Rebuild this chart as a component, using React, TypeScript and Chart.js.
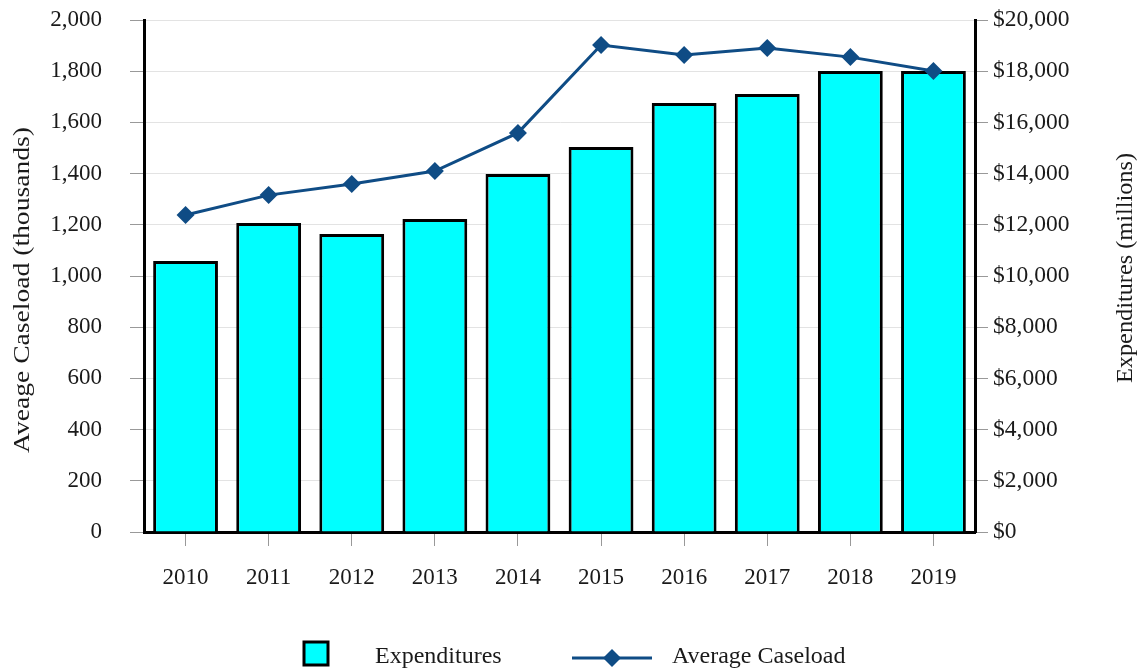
import React, { useEffect, useRef } from "react";
import { Chart, registerables } from "chart.js";

Chart.register(...registerables);

const years = ["2010", "2011", "2012", "2013", "2014", "2015", "2016", "2017", "2018", "2019"];
const expenditures = [10590, 12070, 11640, 12230, 13980, 15040, 16760, 17110, 18010, 18010];
const caseload = [1238, 1316, 1359, 1410, 1559, 1902, 1863, 1891, 1855, 1801];
const leftTitle = "Aveage Caseload (thousands)";
const rightTitle = "Expenditures (millions)";
const barLabel = "Expenditures";
const lineLabel = "Average Caseload";

const FONT = "'Liberation Serif', 'Times New Roman', serif";
const TEXT = "#1a1a1a";
const CYAN = "#00ffff";
const BLUE = "#0f4c85";

const extrasPlugin = {
  id: "extras",
  afterDraw(chart: any) {
    const ctx = chart.ctx;
    ctx.save();
    ctx.fillStyle = TEXT;
    ctx.textAlign = "center";
    ctx.textBaseline = "middle";
    // axis titles
    ctx.font = `24px ${FONT}`;
    ctx.save();
    ctx.translate(23, 290);
    ctx.rotate(-Math.PI / 2);
    const lw = ctx.measureText(leftTitle).width;
    ctx.scale(326 / lw, 1);
    ctx.fillText(leftTitle, 0, 0);
    ctx.restore();
    ctx.save();
    ctx.translate(1126, 268);
    ctx.rotate(-Math.PI / 2);
    const rw = ctx.measureText(rightTitle).width;
    ctx.scale(230 / rw, 1);
    ctx.fillText(rightTitle, 0, 0);
    ctx.restore();

    // legend
    const ly = 657;
    ctx.fillStyle = CYAN;
    ctx.fillRect(304, 642, 24, 23);
    ctx.strokeStyle = "#000";
    ctx.lineWidth = 3;
    ctx.strokeRect(304, 642, 24, 23);
    ctx.fillStyle = TEXT;
    ctx.textAlign = "left";
    ctx.fillText(barLabel, 375, ly);

    ctx.strokeStyle = BLUE;
    ctx.lineWidth = 3;
    ctx.beginPath();
    ctx.moveTo(572, ly + 1);
    ctx.lineTo(652, ly + 1);
    ctx.stroke();
    ctx.fillStyle = BLUE;
    ctx.beginPath();
    const r = 9;
    ctx.moveTo(612, ly + 1 - r);
    ctx.lineTo(612 + r, ly + 1);
    ctx.lineTo(612, ly + 1 + r);
    ctx.lineTo(612 - r, ly + 1);
    ctx.closePath();
    ctx.fill();
    ctx.fillStyle = TEXT;
    ctx.fillText(lineLabel, 672, ly);
    ctx.restore();
  },
};

export default function App() {
  const ref = useRef<HTMLCanvasElement>(null);
  useEffect(() => {
    if (!ref.current) return;
    const chart = new Chart(ref.current, {
      type: "bar",
      data: {
        labels: years,
        datasets: [
          {
            type: "line",
            label: lineLabel,
            data: caseload,
            yAxisID: "y",
            borderColor: BLUE,
            backgroundColor: BLUE,
            borderWidth: 3,
            pointStyle: "rectRot",
            pointRadius: 9,
            pointBackgroundColor: BLUE,
            pointBorderColor: BLUE,
            pointBorderWidth: 0,
            tension: 0,
            order: 0,
          } as any,
          {
            type: "bar",
            label: barLabel,
            data: expenditures,
            yAxisID: "y1",
            backgroundColor: CYAN,
            borderColor: "#000",
            borderWidth: 3,
            barPercentage: 0.78,
            categoryPercentage: 1,
            order: 1,
          },
        ],
      },
      options: {
        animation: false,
        responsive: true,
        maintainAspectRatio: false,
        layout: { padding: { top: 20, bottom: 60, left: 0, right: 0 } },
        plugins: { legend: { display: false }, tooltip: { enabled: false } },
        scales: {
          x: {
            offset: true,
            grid: {
              offset: false,
              drawOnChartArea: false,
              tickLength: 14,
              tickColor: "#999",
              tickWidth: 1,
            },
            border: { color: "#000", width: 3 },
            ticks: { color: TEXT, font: { family: FONT, size: 23 }, padding: 18, maxRotation: 0 },
            afterFit(s: any) {
              s.height = 79;
              s.paddingLeft = 0;
              s.paddingRight = 0;
            },
          },
          y: {
            position: "left",
            min: 0,
            max: 2000,
            grid: { color: "#e3e3e3", lineWidth: 1, tickLength: 14, tickColor: "#999" },
            border: { color: "#000", width: 3 },
            ticks: {
              stepSize: 200,
              color: TEXT,
              font: { family: FONT, size: 23 },
              padding: 28,
              callback: (v: any) => Number(v).toLocaleString("en-US"),
            },
            afterFit(s: any) {
              s.width = 144;
              s.paddingTop = 0;
              s.paddingBottom = 0;
            },
          },
          y1: {
            position: "right",
            min: 0,
            max: 20000,
            grid: { drawOnChartArea: false, tickLength: 13, tickColor: "#999" },
            border: { color: "#000", width: 3 },
            ticks: {
              stepSize: 2000,
              color: TEXT,
              font: { family: FONT, size: 23.5 },
              padding: 5,
              callback: (v: any) => "$" + Number(v).toLocaleString("en-US"),
            },
            afterFit(s: any) {
              s.width = 165;
              s.paddingTop = 0;
              s.paddingBottom = 0;
            },
          },
        },
      },
      plugins: [extrasPlugin],
    });
    return () => chart.destroy();
  }, []);
  return (
    <div style={{ position: "fixed", left: 0, top: 0, width: 1140, height: 671, background: "#fff" }}>
      <canvas ref={ref} />
    </div>
  );
}
